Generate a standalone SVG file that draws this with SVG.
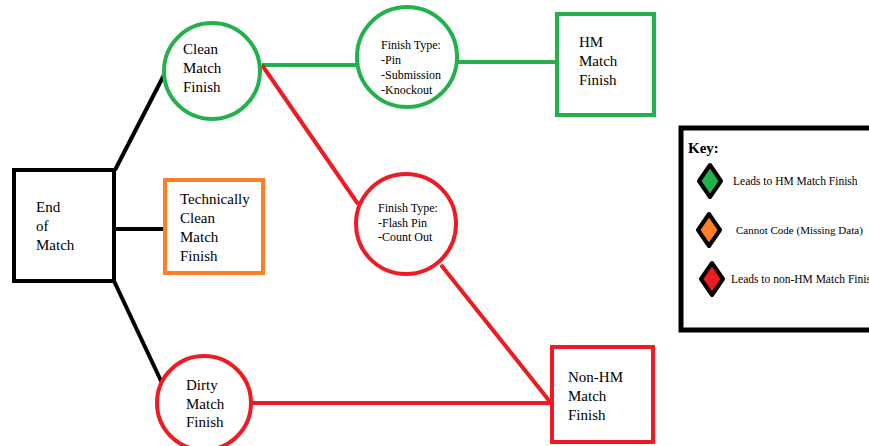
<svg xmlns="http://www.w3.org/2000/svg" width="869" height="446" viewBox="0 0 869 446">
<style>
.t{font-family:"Liberation Serif","Times New Roman",serif;font-size:15px;fill:#000}
.s{font-family:"Liberation Serif","Times New Roman",serif;font-size:12px;fill:#000}
.k{font-family:"Liberation Serif","Times New Roman",serif;font-size:11.5px;fill:#000}
.n{fill:#fff;stroke-width:4}
.g{stroke:#22b14c}.r{stroke:#ed1c24}.o{stroke:#ff7f27}.b{stroke:#000}
.c line{stroke-width:4}
.d{stroke:#000;stroke-width:4;stroke-linejoin:round}
</style>
<rect width="869" height="446" fill="#fff"/>
<g id="connectors" class="c">
<line class="b" x1="115" y1="170" x2="164" y2="75"/>
<line class="b" x1="115" y1="229" x2="165" y2="229"/>
<line class="b" x1="114" y1="281" x2="162" y2="383"/>
<line class="g" x1="262" y1="65" x2="357" y2="65"/>
<line class="g" x1="458" y1="62" x2="557" y2="62"/>
<line class="r" x1="262" y1="65" x2="358" y2="204"/>
<line class="r" x1="441" y1="265" x2="551" y2="403"/>
<line class="r" x1="252" y1="403" x2="551" y2="403"/>
</g>
<g id="end">
<rect class="n b" x="14" y="170" width="100" height="111"/>
<text class="t" x="36"><tspan x="36" y="212">End</tspan><tspan x="36" y="231">of</tspan><tspan x="36" y="250">Match</tspan></text>
</g>
<g id="clean">
<circle class="n g" cx="212" cy="71" r="48"/>
<text class="t"><tspan x="183" y="54">Clean</tspan><tspan x="183" y="73">Match</tspan><tspan x="183" y="92">Finish</tspan></text>
</g>
<g id="technical">
<rect class="n o" x="165" y="180" width="98" height="93"/>
<text class="t"><tspan x="180" y="204">Technically</tspan><tspan x="180" y="223">Clean</tspan><tspan x="180" y="242">Match</tspan><tspan x="180" y="261">Finish</tspan></text>
</g>
<g id="dirty">
<circle class="n r" cx="204" cy="403" r="47"/>
<text class="t"><tspan x="186" y="390">Dirty</tspan><tspan x="186" y="409">Match</tspan><tspan x="186" y="427">Finish</tspan></text>
</g>
<g id="finish-green">
<circle class="n g" cx="407" cy="57" r="50"/>
<text class="s"><tspan x="381" y="49">Finish Type:</tspan><tspan x="381" y="64">-Pin</tspan><tspan x="381" y="79">-Submission</tspan><tspan x="381" y="94">-Knockout</tspan></text>
</g>
<g id="finish-red">
<circle class="n r" cx="406" cy="224" r="50"/>
<text class="s"><tspan x="378" y="212">Finish Type:</tspan><tspan x="378" y="227">-Flash Pin</tspan><tspan x="378" y="241">-Count Out</tspan></text>
</g>
<g id="hm">
<rect class="n g" x="557" y="14" width="97" height="101"/>
<text class="t"><tspan x="579" y="47">HM</tspan><tspan x="579" y="66">Match</tspan><tspan x="579" y="85">Finish</tspan></text>
</g>
<g id="nonhm">
<rect class="n r" x="552" y="347" width="101" height="95"/>
<text class="t"><tspan x="568" y="382">Non-HM</tspan><tspan x="568" y="401">Match</tspan><tspan x="568" y="420">Finish</tspan></text>
</g>
<g id="key">
<rect x="681" y="128" width="200" height="202" fill="#fff" stroke="#000" stroke-width="5"/>
<text x="688" y="153" style="font-family:'Liberation Serif','Times New Roman',serif;font-size:15px;font-weight:bold">Key:</text>
<polygon class="d" points="710,165 721,181 710,197 699,181" fill="#22b14c"/>
<polygon class="d" points="709,214 720,230 709,246 698,230" fill="#ff7f27"/>
<polygon class="d" points="712,263 723,279 712,295 701,279" fill="#ed1c24"/>
<text class="k" x="733" y="185">Leads to HM Match Finish</text>
<text class="k" x="736" y="234" style="font-size:11px">Cannot Code (Missing Data)</text>
<text class="k" x="731" y="283">Leads to non-HM Match Finish</text>
</g>
</svg>
